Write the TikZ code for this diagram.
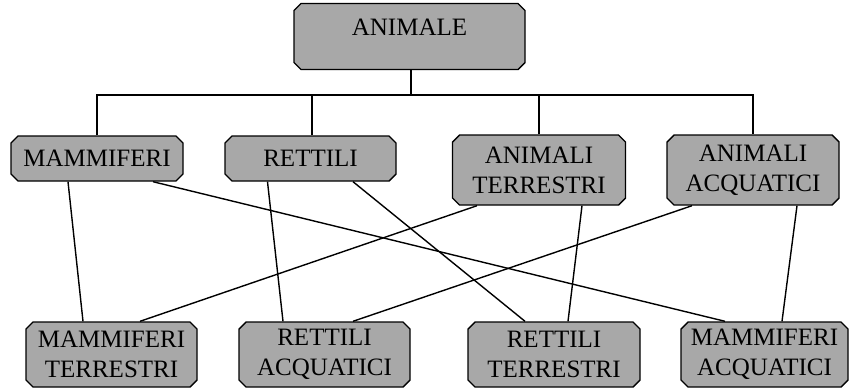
\documentclass[tikz,border=0pt]{standalone}
\usepackage{fontspec}
\setmainfont{Liberation Serif}
\usetikzlibrary{shapes.misc}
\definecolor{boxgray}{RGB}{168,168,168}
\tikzset{
  box/.style={chamfered rectangle, chamfered rectangle xsep=3.5pt,
    chamfered rectangle ysep=3.5pt, draw=black, line width=1.4pt,
    fill=boxgray, inner sep=0pt, align=center,
    font=\fontsize{25}{30}\selectfont},
  link/.style={line width=1.4pt}
}
\begin{document}
\begin{tikzpicture}[x=1pt,y=-1pt]
  \useasboundingbox (0,0) rectangle (850,388);
  % root
  \node[box, minimum width=231pt, minimum height=59pt, text height=28pt, text depth=31pt]
    (root) at (409.5,36.5) {ANIMALE};
  % middle row
  \node[box, minimum width=172pt, minimum height=45pt] (mam) at (97,158.5) {MAMMIFERI};
  \node[box, minimum width=171pt, minimum height=45pt] (ret) at (310.5,158.5) {RETTILI};
  \node[box, minimum width=173pt, minimum height=70pt] (ater) at (539,170) {ANIMALI\\TERRESTRI};
  \node[box, minimum width=172pt, minimum height=70pt] (aacq) at (753,170) {ANIMALI\\ACQUATICI};
  % bottom row
  \node[box, minimum width=171pt, minimum height=65pt] (mter) at (111.5,354.5) {MAMMIFERI\\TERRESTRI};
  \node[box, minimum width=171pt, minimum height=65pt] (racq) at (324.5,354.5) {RETTILI\\ACQUATICI};
  \node[box, minimum width=172pt, minimum height=65pt] (rter) at (554,354.5) {RETTILI\\TERRESTRI};
  \node[box, minimum width=167pt, minimum height=65pt] (macq) at (764.5,354.5) {MAMMIFERI\\ACQUATICI};
  % tree from the root
  \coordinate (bus) at (411,95);
  \draw[link] ([xshift=1.5pt]root.south) -- (bus);
  \draw[link] (mam.north) |- (bus) -| (aacq.north);
  \draw[link] ([xshift=1.5pt]ret.north) -- ++(0,-41);
  \draw[link] (ater.north) -- ++(0,-40);
  % cross links
  \draw[link] ([xshift=-29pt]mam.south) -- ([xshift=-28.5pt]mter.north);
  \draw[link] ([xshift=56pt]mam.south) -- ([xshift=-39.5pt]macq.north);
  \draw[link] ([xshift=-43pt]ret.south) -- ([xshift=-41.5pt]racq.north);
  \draw[link] ([xshift=42.5pt]ret.south) -- ([xshift=-29pt]rter.north);
  \draw[link] ([xshift=-62pt]ater.south) -- ([xshift=28.5pt]mter.north);
  \draw[link] ([xshift=43pt]ater.south) -- ([xshift=14pt]rter.north);
  \draw[link] ([xshift=-61pt]aacq.south) -- ([xshift=28.5pt]racq.north);
  \draw[link] ([xshift=44pt]aacq.south) -- ([xshift=17.5pt]macq.north);
\end{tikzpicture}
\end{document}
